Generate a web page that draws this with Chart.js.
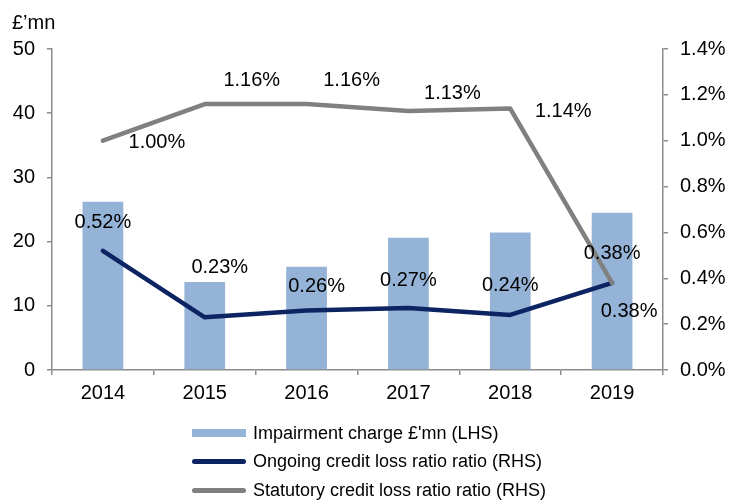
<!DOCTYPE html>
<html>
<head>
<meta charset="utf-8">
<script src="https://cdn.jsdelivr.net/npm/chart.js@4.4.1/dist/chart.umd.min.js"></script>
<style>
  body { margin: 0; background: #fff; font-family: "Liberation Sans", Arial, sans-serif; }
  #wrap { position: relative; width: 731px; height: 500px; }
  #legend { position: absolute; left: 192px; top: 419px; font-size: 18px; color: #000; }
  .item { display: flex; align-items: center; height: 28.5px; white-space: nowrap; }
  .swatch { display: inline-block; width: 54px; margin-right: 7px; }
</style>
</head>
<body>
<div id="wrap">
  <canvas id="chart" width="731" height="500"></canvas>
  <div id="legend"></div>
</div>
<script>
// Impairment charge and credit loss ratios by year
const years = ['2014', '2015', '2016', '2017', '2018', '2019'];
const impairment = [26.2, 13.7, 16.1, 20.6, 21.4, 24.5];   // £'mn, left axis
const ongoingRatio = [0.52, 0.23, 0.26, 0.27, 0.24, 0.38];  // %, right axis
const statutoryRatio = [1.00, 1.16, 1.16, 1.13, 1.14, 0.38]; // %, right axis

// where each value label sits relative to its point (px)
const ongoingLabelOffsets = [[0, -28], [15, -50], [10, -24], [0, -28], [0, -29], [0, -29]];
const statutoryLabelOffsets = [[54, 2], [47, -24], [45, -24], [44, -17], [53, 3], [17, 29]];

const FONT = '"Liberation Sans", Arial, sans-serif';
const axisGrey = '#8c8c8c';

Chart.defaults.font.family = FONT;
Chart.defaults.font.size = 20;
Chart.defaults.color = '#000';

// percentage labels next to the line points
const valueLabels = {
    id: 'valueLabels',
    afterDatasetsDraw(chart) {
        const ctx = chart.ctx;
        ctx.save();
        ctx.font = '20px ' + FONT;
        ctx.fillStyle = '#000';
        ctx.textAlign = 'center';
        ctx.textBaseline = 'middle';
        [[1, ongoingLabelOffsets], [2, statutoryLabelOffsets]].forEach(([idx, offs]) => {
            const values = chart.data.datasets[idx].data;
            chart.getDatasetMeta(idx).data.forEach((pt, i) => {
                ctx.fillText(values[i].toFixed(2) + '%', pt.x + offs[i][0], pt.y + offs[i][1]);
            });
        });
        ctx.restore();
    }
};

const tickGrid = {
    display: true,
    drawOnChartArea: false,
    drawTicks: true,
    tickLength: 5,
    color: axisGrey,
    lineWidth: 1.5
};

const chart = new Chart(document.getElementById('chart'), {
    data: {
        labels: years,
        datasets: [
            {
                type: 'bar',
                label: "Impairment charge £'mn (LHS)",
                data: impairment,
                backgroundColor: '#95b3d7',
                yAxisID: 'y',
                categoryPercentage: 1,
                barPercentage: 0.4,
                order: 3
            },
            {
                type: 'line',
                label: 'Ongoing credit loss ratio ratio (RHS)',
                data: ongoingRatio,
                borderColor: '#0c2461',
                backgroundColor: '#0c2461',
                borderWidth: 4.5,
                pointRadius: 0,
                tension: 0,
                borderJoinStyle: 'round',
                borderCapStyle: 'round',
                yAxisID: 'y1',
                order: 2
            },
            {
                type: 'line',
                label: 'Statutory credit loss ratio ratio (RHS)',
                data: statutoryRatio,
                borderColor: '#808080',
                backgroundColor: '#808080',
                borderWidth: 4.5,
                pointRadius: 0,
                tension: 0,
                borderJoinStyle: 'round',
                borderCapStyle: 'round',
                yAxisID: 'y1',
                order: 1
            }
        ]
    },
    options: {
        responsive: false,
        animation: false,
        layout: { padding: { left: 12, right: 0, top: 0, bottom: 89 } },
        plugins: {
            legend: { display: false },
            tooltip: { enabled: false },
            title: {
                display: true,
                text: '£’mn',
                align: 'start',
                color: '#000',
                font: { size: 20, weight: 'normal' },
                padding: { top: 11, bottom: 14 }
            }
        },
        scales: {
            x: {
                grid: { ...tickGrid, offset: true },
                border: { color: axisGrey, width: 1.5 },
                ticks: { padding: 6 }
            },
            y: {
                position: 'left',
                min: 0,
                max: 50,
                ticks: { stepSize: 10, padding: 12 },
                grid: tickGrid,
                border: { color: axisGrey, width: 1.5 },
                afterFit: scale => { scale.width = 40; }
            },
            y1: {
                position: 'right',
                min: 0,
                max: 1.4,
                ticks: {
                    stepSize: 0.2,
                    padding: 12,
                    callback: v => v.toFixed(1) + '%'
                },
                grid: tickGrid,
                border: { color: axisGrey, width: 1.5 },
                afterFit: scale => { scale.width = 68; }
            }
        }
    },
    plugins: [valueLabels]
});

// legend stacked one item per row under the axis
const legendEl = document.getElementById('legend');
chart.data.datasets.forEach(ds => {
    const row = document.createElement('div');
    row.className = 'item';
    const sw = document.createElement('span');
    sw.className = 'swatch';
    if (ds.type === 'bar') {
        sw.style.height = '8px';
        sw.style.background = ds.backgroundColor;
    } else {
        sw.style.height = '5px';
        sw.style.borderRadius = '3px';
        sw.style.background = ds.borderColor;
    }
    const txt = document.createElement('span');
    txt.textContent = ds.label;
    row.append(sw, txt);
    legendEl.append(row);
});
</script>
</body>
</html>
